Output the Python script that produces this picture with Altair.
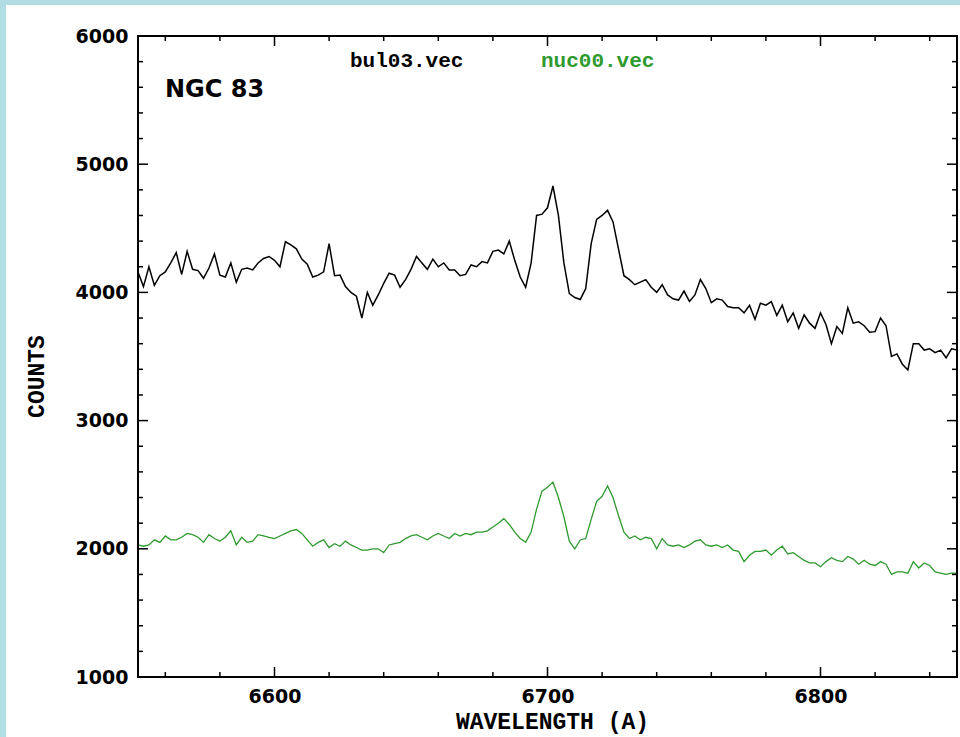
import altair as alt
import pandas as pd

# Spectra sampled every 2 A starting at 6550 A
WAVE_START = 6550
WAVE_STEP = 2

bul03_counts = [
    4160, 4045, 4200, 4055, 4130, 4160, 4230, 4310, 4140, 4320,
    4180, 4170, 4110, 4190, 4300, 4135, 4120, 4230, 4080, 4180,
    4190, 4175, 4230, 4265, 4280, 4250, 4200, 4395, 4370, 4340,
    4260, 4220, 4120, 4135, 4160, 4380, 4130, 4135, 4045, 4000,
    3970, 3800, 4000, 3900, 3980, 4070, 4150, 4135, 4040, 4100,
    4180, 4280, 4230, 4180, 4260, 4200, 4230, 4175, 4175, 4130,
    4140, 4214, 4200, 4240, 4230, 4320, 4330, 4300, 4400, 4250,
    4120, 4040, 4230, 4600, 4610, 4660, 4830, 4600, 4230, 3990,
    3960, 3945, 4030, 4380, 4570, 4600, 4640, 4550, 4340, 4130,
    4100, 4060, 4080, 4100, 4040, 4000, 4060, 3980, 3950, 3940,
    4010, 3930, 3980, 4100, 4030, 3920, 3950, 3940, 3890, 3880,
    3880, 3840, 3900, 3790, 3915, 3900, 3928, 3820, 3900, 3772,
    3840, 3720, 3824, 3760, 3720, 3840, 3750, 3600, 3733, 3680,
    3880, 3760, 3770, 3740, 3690, 3694, 3800, 3740, 3500, 3520,
    3440, 3395, 3600, 3600, 3550, 3560, 3530, 3550, 3490, 3560,
    3550,
]

nuc00_counts = [
    2030, 2020, 2030, 2070, 2050, 2100, 2070, 2070, 2090, 2120,
    2110, 2090, 2050, 2110, 2080, 2060, 2090, 2140, 2030, 2090,
    2050, 2060, 2110, 2100, 2090, 2080, 2100, 2120, 2140, 2150,
    2120, 2070, 2020, 2050, 2070, 2010, 2040, 2020, 2060, 2030,
    2010, 1990, 1990, 2000, 2000, 1970, 2030, 2040, 2050, 2080,
    2100, 2110, 2090, 2070, 2100, 2120, 2100, 2080, 2120, 2100,
    2120, 2110, 2130, 2130, 2140, 2170, 2200, 2235, 2190, 2130,
    2080, 2050, 2130, 2310, 2450, 2480, 2520, 2400, 2250, 2060,
    2000, 2069, 2080, 2230, 2370, 2410, 2490, 2400, 2260, 2130,
    2080, 2100, 2070, 2090, 2080, 2000, 2080, 2030, 2020, 2030,
    2010, 2030, 2060, 2070, 2030, 2020, 2030, 2010, 2030, 1990,
    1980, 1900, 1950, 1980, 1980, 1990, 1950, 1990, 2020, 1960,
    1970, 1940, 1910, 1890, 1890, 1860, 1900, 1930, 1910, 1900,
    1940, 1920, 1880, 1910, 1880, 1870, 1900, 1880, 1800, 1820,
    1820, 1810, 1900, 1850, 1890, 1870, 1820, 1810, 1800, 1810,
    1810,
]

wavelength = [WAVE_START + WAVE_STEP * i for i in range(len(bul03_counts))]

x_labels = [6600, 6700, 6800]
x_minor = [6560, 6580, 6620, 6640, 6660, 6680, 6720, 6740,
           6760, 6780, 6820, 6840]
y_labels = [1000, 2000, 3000, 4000, 5000, 6000]
y_major = [2000, 3000, 4000, 5000]
y_minor = [1200, 1400, 1600, 1800, 2200, 2400, 2600, 2800,
           3200, 3400, 3600, 3800, 4200, 4400, 4600, 4800,
           5200, 5400, 5600, 5800]

W, H = 819, 641
PAD_L, PAD_T, PAD_R, PAD_B = 138, 36, 3, 60
FRAME_BLUE = "#b3dde4"
GREEN = "#2e9a2e"
LABEL_FONT = "DejaVu Sans"
MONO_FONT = "Liberation Mono"

xscale = alt.Scale(domain=[6550, 6850], nice=False, zero=False)
yscale = alt.Scale(domain=[1000, 6000], nice=False, zero=False)

# one axis definition per channel, shared by every layer so they merge
x_axis = alt.Axis(
    values=x_labels, format="d", ticks=False, domain=False, grid=False,
    labelFont=LABEL_FONT, labelFontSize=19, labelFontWeight="bold",
    labelColor="black", labelPadding=10, zindex=1,
    title="WAVELENGTH (A)", titleFont=MONO_FONT, titleFontSize=23,
    titleFontWeight="bold", titleColor="black",
    titleX=414, titleY=44, titleBaseline="middle",
)
y_axis = alt.Axis(
    values=y_labels, format="d", ticks=False, domain=False, grid=False,
    labelFont=LABEL_FONT, labelFontSize=19, labelFontWeight="bold",
    labelColor="black", labelPadding=10, zindex=1,
    title="COUNTS", titleFont=MONO_FONT, titleFontSize=23,
    titleFontWeight="bold", titleColor="black",
    titleX=-102, titleY=340, titleAngle=270,
    titleAlign="center", titleBaseline="middle",
)


def X(field):
    return alt.X(field, scale=xscale, axis=x_axis)


def Y(field):
    return alt.Y(field, scale=yscale, axis=y_axis)


spec = pd.DataFrame({
    "wavelength": wavelength,
    "bul03": bul03_counts,
    "nuc00": nuc00_counts,
})


def band(x0, x1, y0, y1):
    return alt.Chart(pd.DataFrame({"b": [0]})).mark_rect(
        color=FRAME_BLUE
    ).encode(x=alt.value(x0), x2=alt.value(x1),
             y=alt.value(y0), y2=alt.value(y1))


# light blue strips along the top and left edges of the page
top_band = band(-PAD_L, W + PAD_R, -PAD_T, -PAD_T + 5)
left_band = band(-PAD_L, -PAD_L + 6, -PAD_T, H + PAD_B)

bul03_line = alt.Chart(spec).mark_line(
    color="black", strokeWidth=1.5
).encode(x=X("wavelength:Q"), y=Y("bul03:Q"))

nuc00_line = alt.Chart(spec).mark_line(
    color=GREEN, strokeWidth=1.3
).encode(x=X("wavelength:Q"), y=Y("nuc00:Q"))


def x_ticks(values, length):
    df = pd.DataFrame({"wavelength": values})
    base = alt.Chart(df).mark_rule(color="black", strokeWidth=1.5)
    bottom = base.encode(x=X("wavelength:Q"),
                         y=alt.value(H), y2=alt.value(H - length))
    top = base.encode(x=X("wavelength:Q"),
                      y=alt.value(0), y2=alt.value(length))
    return [bottom, top]


def y_ticks(values, length):
    df = pd.DataFrame({"bul03": values})
    base = alt.Chart(df).mark_rule(color="black", strokeWidth=1.5)
    left = base.encode(y=Y("bul03:Q"),
                       x=alt.value(0), x2=alt.value(length))
    right = base.encode(y=Y("bul03:Q"),
                        x=alt.value(W), x2=alt.value(W - length))
    return [left, right]


ticks = (x_ticks(x_labels, 10) + x_ticks(x_minor, 5)
         + y_ticks(y_major, 10) + y_ticks(y_minor, 5))

frame = alt.Chart(pd.DataFrame({"f": [0]})).mark_rect(
    filled=False, stroke="black", strokeWidth=2
).encode(x=alt.value(0), x2=alt.value(W), y=alt.value(0), y2=alt.value(H))


def label(text, x, y, font, size, color="black"):
    return alt.Chart(pd.DataFrame({"s": [text]})).mark_text(
        align="left", baseline="alphabetic", font=font, fontSize=size,
        fontWeight="bold", color=color,
    ).encode(text="s:N", x=alt.value(x), y=alt.value(y))


galaxy = label("NGC 83", 27, 61, LABEL_FONT, 24)
key_bul = label("bul03.vec", 212, 31, MONO_FONT, 21)
key_nuc = label("nuc00.vec", 403, 31, MONO_FONT, 21, GREEN)

chart = alt.layer(
    top_band, left_band, nuc00_line, bul03_line, *ticks, frame,
    galaxy, key_bul, key_nuc
).properties(
    width=W, height=H,
    autosize=alt.AutoSizeParams(type="none"),
    padding={"left": PAD_L, "top": PAD_T, "right": PAD_R, "bottom": PAD_B},
    background="white",
).configure_view(strokeWidth=0)

chart.save("out.html", embed_options={"renderer": "svg", "actions": False})
